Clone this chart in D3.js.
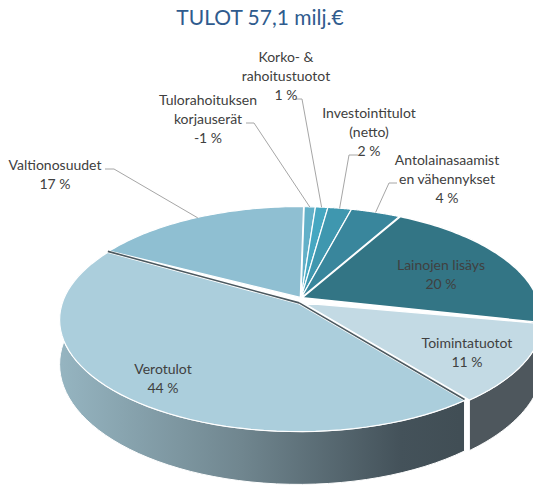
<!DOCTYPE html>
<html>
<head>
<meta charset="utf-8">
<script src="https://cdn.jsdelivr.net/npm/d3@7"></script>
<style>
body { margin: 0; background: #fff; }
text { font-family: Lato, sans-serif; }
</style>
</head>
<body>
<div id="chart"></div>
<script>
//Chart data (shares estimated from the slices, labels as printed)
var categories = ["Lainojen lisäys", "Toimintatuotot", "Verotulot", "Valtionosuudet",
    "Tulorahoituksen korjauserät", "Korko- & rahoitustuotot", "Investointitulot (netto)", "Antolainasaamisten vähennykset"];
var shares = [20.5, 11.2, 43, 17.5, 0.9, 1, 1.9, 4];
var shareLabels = ["20 %", "11 %", "44 %", "17 %", "-1 %", "1 %", "2 %", "4 %"];
var labelLines = [["Lainojen lisäys"], ["Toimintatuotot"], ["Verotulot"], ["Valtionosuudet"],
    ["Tulorahoituksen", "korjauserät"], ["Korko- &", "rahoitustuotot"], ["Investointitulot", "(netto)"], ["Antolainasaamist", "en vähennykset"]];

//Styles and layout
var topColors = ["#337585", "#c3dae4", "#abcedc", "#8fbfd2", "#62b0c8", "#46a7c1", "#3f97af", "#39869c"];
var labelX = [441, 467, 163, 55, 208, 286, 369, 447];
var labelY = [265, 343, 369, 165, 100, 57, 113, 160];
var leaderX = [null, null, null, 105, 246, 295, 358, 397];
var leaderY = [null, null, null, 169, 123, 99, 155, 183];
var leaderStep = [0, 0, 0, 9, 8, 7, -9, -8];
var explode = [0.006, 0.012, 0.012, 0.006, 0.003, 0.003, 0.003, 0.003];
var apexDrop = [0, 0.04, 0.045, 0, 0, 0, 0, 0];
var lineHeight = 19.4;

var svgWidth = 533;
var svgHeight = 487;
var cx = 301, cy = 298;
var radius = 235;
var squash = 107.8;
var persp = 0.184;
var depth = 43;

var svg = d3.select("#chart").append("svg")
    .attr("width", svgWidth)
    .attr("height", svgHeight)
    .style("display", "block");

var defs = svg.append("defs");
var wallGradient = defs.append("linearGradient")
    .attr("id", "wallGradient")
    .attr("gradientUnits", "userSpaceOnUse")
    .attr("x1", 62).attr("x2", 460).attr("y1", 0).attr("y2", 0);
wallGradient.append("stop").attr("offset", "0%").attr("stop-color", "#95b4c0");
wallGradient.append("stop").attr("offset", "45%").attr("stop-color", "#70868f");
wallGradient.append("stop").attr("offset", "85%").attr("stop-color", "#44525a");
wallGradient.append("stop").attr("offset", "100%").attr("stop-color", "#414e55");

//Perspective projection of a point on the unit disc
function project(u, v, drop) {
    var s = 1 / (1 - persp * v);
    return [cx + radius * u * s, cy + squash * v * s + (drop ? depth * s : 0)];
}

var pie = d3.pie().sort(null)
    .startAngle(29 * Math.PI / 180)
    .endAngle(389 * Math.PI / 180);
var arcs = pie(shares);
var line = d3.line();

function shift(d, i) {
    var mid = (d.startAngle + d.endAngle) / 2;
    return [explode[i] * Math.sin(mid), -explode[i] * Math.cos(mid)];
}

function rimPoints(d, i, drop) {
    var off = shift(d, i);
    return d3.range(0, 61).map(function(k) {
        var a = d.startAngle + (d.endAngle - d.startAngle) * k / 60;
        return project(off[0] + Math.sin(a), off[1] - Math.cos(a), drop);
    });
}

function apexPoint(d, i) {
    var off = shift(d, i);
    return project(off[0], off[1] + apexDrop[i], false);
}

//Side walls of the three front slices
[0, 1, 2].forEach(function(i) {
    var d = arcs[i];
    var wall = rimPoints(d, i, false).concat(rimPoints(d, i, true).reverse());
    svg.append("path")
        .attr("d", line(wall) + "Z")
        .attr("fill", i === 2 ? "url(#wallGradient)" : i === 1 ? "#4e575d" : "#3f4c53")
        .attr("stroke", "#fff")
        .attr("stroke-width", 1);
});

//Top faces
arcs.forEach(function(d, i) {
    var pts = [apexPoint(d, i)].concat(rimPoints(d, i, false));
    svg.append("path")
        .attr("d", line(pts) + "Z")
        .attr("fill", topColors[i])
        .attr("stroke", "#fff")
        .attr("stroke-width", i === 0 ? 1.5 : 1.2)
        .attr("stroke-linejoin", "round");
});

//Dark inner edges of the Verotulot slice
var bigApex = apexPoint(arcs[2], 2);
var bigRim = rimPoints(arcs[2], 2, false);
[bigRim[0], bigRim[60]].forEach(function(p) {
    svg.append("path")
        .attr("d", line([bigApex, p]))
        .attr("stroke", "#4b5960")
        .attr("stroke-width", 1.6)
        .attr("fill", "none")
        .attr("transform", "translate(0,-1)");
});

//Leader lines
arcs.forEach(function(d, i) {
    if (leaderX[i] === null) return;
    var mid = (d.startAngle + d.endAngle) / 2;
    var rim = project(Math.sin(mid), -Math.cos(mid), false);
    svg.append("path")
        .attr("d", line([[leaderX[i], leaderY[i]], [leaderX[i] + leaderStep[i], leaderY[i]], rim]))
        .attr("fill", "none")
        .attr("stroke", "#a6a6a6")
        .attr("stroke-width", 1);
});

//Labels
categories.forEach(function(name, i) {
    var rows = labelLines[i].concat([shareLabels[i]]);
    var label = svg.append("text")
        .attr("text-anchor", "middle")
        .attr("font-size", "14px")
        .attr("fill", "#404040");
    rows.forEach(function(row, r) {
        label.append("tspan")
            .attr("x", labelX[i])
            .attr("y", labelY[i] + r * lineHeight + 4.5)
            .text(row);
    });
});

//Title
svg.append("text")
    .attr("x", 260)
    .attr("y", 25)
    .attr("text-anchor", "middle")
    .attr("font-size", "21px")
    .attr("fill", "#2f5b8e")
    .text("TULOT 57,1 milj.€");
</script>
</body>
</html>
